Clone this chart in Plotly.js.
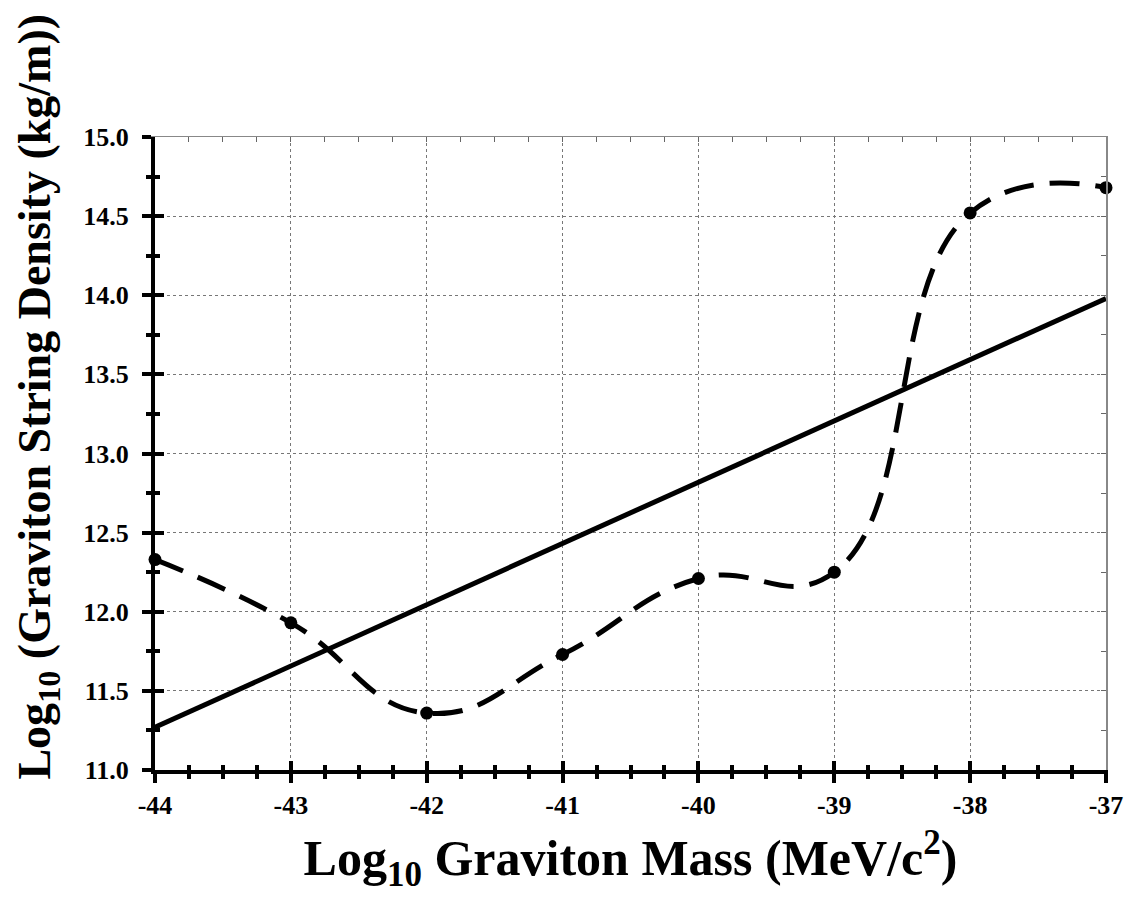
<!DOCTYPE html>
<html>
<head>
<meta charset="utf-8">
<script src="https://cdn.plot.ly/plotly-3.0.1.min.js"></script>
<style>html,body{margin:0;padding:0;background:#fff;}#chart{width:1126px;height:902px;}</style>
</head>
<body>
<div id="chart"></div>
<script>
// Data
const massLog = [-44, -43, -42, -41, -40, -39, -38, -37];
const densityCurve = [12.33, 11.93, 11.36, 11.73, 12.21, 12.25, 14.52, 14.68];
const lineX = [-44, -37];
const lineY = [11.27, 13.98];
const xTickVals = [-44, -43, -42, -41, -40, -39, -38, -37];
const xTickText = ['-44', '-43', '-42', '-41', '-40', '-39', '-38', '-37'];
const yTickVals = [11.0, 11.5, 12.0, 12.5, 13.0, 13.5, 14.0, 14.5, 15.0];
const yTickText = ['11.0', '11.5', '12.0', '12.5', '13.0', '13.5', '14.0', '14.5', '15.0'];
const xTitle = '<b>Log<sub>10</sub> Graviton Mass (MeV/c<sup>2</sup>)</b>';
const yTitle = '<b>Log<sub>10</sub> (Graviton String Density (kg/m))</b>';

const FONT = 'Liberation Serif, Times New Roman, serif';
const xRange = [-44, -37];
const yRange = [11, 15];
const bold = s => '<b>' + s + '</b>';

const traces = [
  {
    x: massLog, y: densityCurve, type: 'scatter', mode: 'lines+markers',
    line: {shape: 'spline', smoothing: 1.3, color: '#000', width: 5, dash: '30px,16px'},
    marker: {color: '#000', size: 13},
    cliponaxis: false, hoverinfo: 'skip'
  },
  {
    x: lineX, y: lineY, type: 'scatter', mode: 'lines',
    line: {color: '#000', width: 5}, hoverinfo: 'skip'
  },
  // invisible copies to activate overlay axes (inside ticks, top/right frame)
  {x: massLog, y: densityCurve, xaxis: 'x2', yaxis: 'y2', type: 'scatter', mode: 'lines', line: {width: 0}, opacity: 0, hoverinfo: 'skip', showlegend: false},
  {x: massLog, y: densityCurve, xaxis: 'x3', yaxis: 'y3', type: 'scatter', mode: 'lines', line: {width: 0}, opacity: 0, hoverinfo: 'skip', showlegend: false}
];

const layout = {
  width: 1126, height: 902,
  margin: {l: 155, r: 20, t: 137, b: 132},
  paper_bgcolor: '#fff', plot_bgcolor: '#fff',
  showlegend: false,
  font: {family: FONT, color: '#000', size: 26},
  xaxis: {
    range: xRange, tickmode: 'array', tickvals: xTickVals, ticktext: xTickText.map(bold),
    ticks: 'outside', ticklen: 9, tickwidth: 4, tickcolor: '#000',
    minor: {dtick: 0.25, ticks: 'outside', ticklen: 5, tickwidth: 4, tickcolor: '#000', showgrid: false},
    showline: true, linecolor: '#000', linewidth: 4,
    showgrid: true, gridcolor: '#777', griddash: 'dot', gridwidth: 1,
    zeroline: false,
    tickfont: {family: FONT, size: 26, color: '#000'},
    ticklabelstandoff: 0,
    title: {text: xTitle, font: {family: FONT, size: 50, color: '#000'}, standoff: 22}
  },
  yaxis: {
    range: yRange, tickmode: 'array', tickvals: yTickVals, ticktext: yTickText.map(bold),
    ticks: 'outside', ticklen: 9, tickwidth: 4, tickcolor: '#000',
    minor: {dtick: 0.25, ticks: 'outside', ticklen: 5, tickwidth: 4, tickcolor: '#000', showgrid: false},
    showline: true, linecolor: '#000', linewidth: 4,
    showgrid: true, gridcolor: '#777', griddash: 'dot', gridwidth: 1,
    zeroline: false,
    tickfont: {family: FONT, size: 26, color: '#000'},
    ticklabelstandoff: 8
  },
  xaxis2: {
    overlaying: 'x', anchor: 'y2', range: xRange, side: 'bottom',
    tickmode: 'array', tickvals: xTickVals, showticklabels: false,
    ticks: 'inside', ticklen: 9, tickwidth: 4, tickcolor: '#000',
    minor: {dtick: 0.25, ticks: 'inside', ticklen: 5, tickwidth: 4, tickcolor: '#000'},
    showline: false, showgrid: false, zeroline: false
  },
  yaxis2: {
    overlaying: 'y', anchor: 'x2', range: yRange, side: 'left',
    tickmode: 'array', tickvals: yTickVals, showticklabels: false,
    ticks: 'inside', ticklen: 9, tickwidth: 4, tickcolor: '#000',
    minor: {dtick: 0.25, ticks: 'inside', ticklen: 5, tickwidth: 4, tickcolor: '#000'},
    showline: false, showgrid: false, zeroline: false
  },
  xaxis3: {
    overlaying: 'x', anchor: 'y3', range: xRange, side: 'top',
    dtick: 0.25, tick0: -44, showticklabels: false,
    ticks: 'inside', ticklen: 5, tickwidth: 1, tickcolor: '#666',
    showline: true, linecolor: '#888', linewidth: 1.5,
    showgrid: false, zeroline: false
  },
  yaxis3: {
    overlaying: 'y', anchor: 'x3', range: yRange, side: 'right',
    dtick: 0.25, tick0: 11, showticklabels: false,
    ticks: 'inside', ticklen: 5, tickwidth: 1, tickcolor: '#666',
    showline: true, linecolor: '#888', linewidth: 1.5,
    showgrid: false, zeroline: false
  },
  annotations: [{
    text: yTitle, textangle: -90, showarrow: false,
    xref: 'paper', yref: 'paper', x: -0.123, y: 0.59,
    xanchor: 'center', yanchor: 'middle',
    font: {family: FONT, size: 46, color: '#000'}
  }]
};

Plotly.newPlot('chart', traces, layout, {displayModeBar: false, staticPlot: true});
</script>
</body>
</html>
